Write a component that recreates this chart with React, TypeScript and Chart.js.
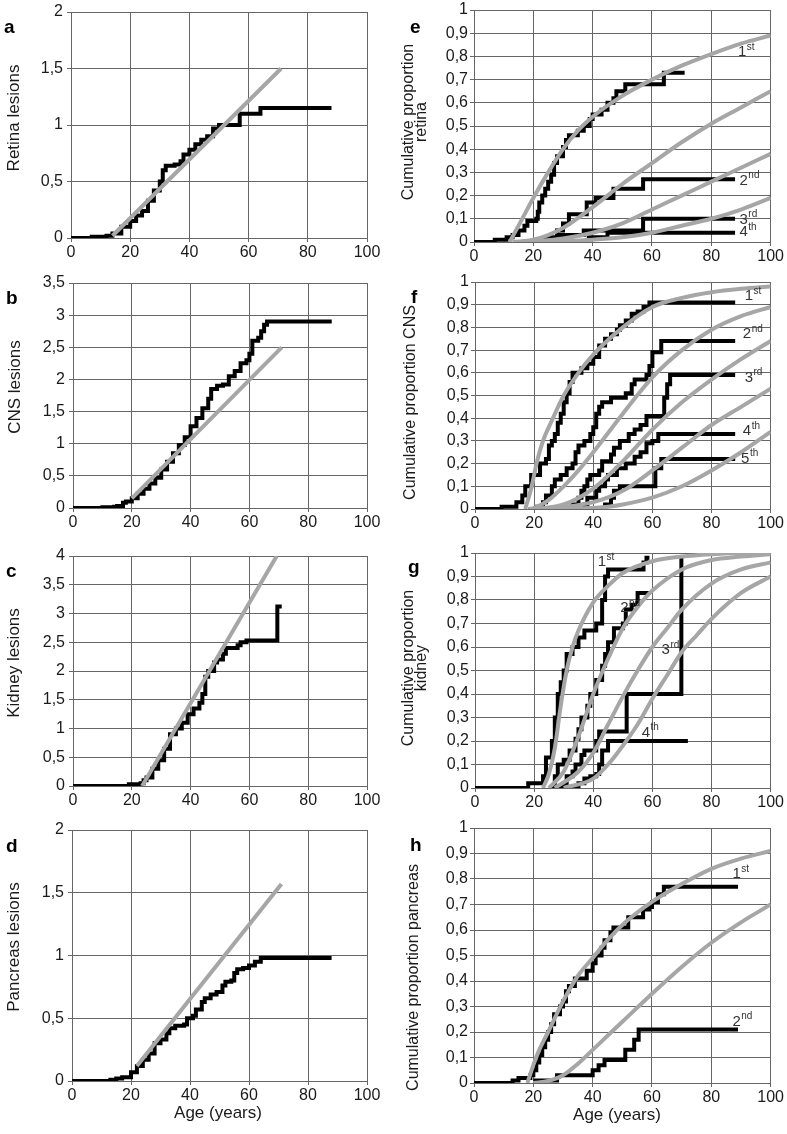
import React, { useEffect, useRef } from 'react';
import { Chart, registerables } from 'chart.js';

Chart.register(...registerables);

// ---------------- shared axis values ----------------
const ageMin = 0;
const ageMax = 100;
const ageStep = 20;

// ---------------- a: retina lesions ----------------
const aObsAge = [0, 7, 12, 14, 17, 20, 22, 24, 26, 28, 30, 31, 32, 35, 37, 38, 40, 42, 44, 46, 48, 50, 57, 64, 88];
const aObsVal = [0, 0.01, 0.02, 0.04, 0.1, 0.15, 0.2, 0.24, 0.33, 0.42, 0.5, 0.6, 0.64, 0.65, 0.68, 0.74, 0.78, 0.83, 0.87, 0.9, 0.97, 1.0, 1.1, 1.15, 1.15];
const aFitAge = [14, 71];
const aFitVal = [0.02, 1.5];

// ---------------- b: CNS lesions ----------------
const bObsAge = [0, 10, 14, 15, 17, 18, 20, 22, 24, 26, 28, 30, 32, 34, 36, 38, 40, 42, 44, 46, 47, 49, 51, 53, 55, 57, 59, 60, 61, 63, 64, 65, 66, 88];
const bObsVal = [0, 0.01, 0.02, 0.03, 0.08, 0.1, 0.15, 0.22, 0.3, 0.38, 0.47, 0.6, 0.72, 0.85, 0.98, 1.1, 1.27, 1.4, 1.55, 1.7, 1.85, 1.9, 1.92, 2.05, 2.13, 2.25, 2.3, 2.4, 2.6, 2.65, 2.75, 2.85, 2.9, 2.9];
const bFitAge = [20, 71];
const bFitVal = [0.15, 2.5];

// ---------------- c: kidney lesions ----------------
const cObsAge = [0, 19, 23, 24, 25, 27, 29, 31, 33, 35, 37, 39, 41, 43, 44, 45, 46, 48, 49, 51, 52, 56, 57, 59, 69.5, 71];
const cObsVal = [0, 0.03, 0.05, 0.1, 0.15, 0.3, 0.45, 0.65, 0.9, 1.0, 1.1, 1.25, 1.35, 1.45, 1.6, 1.9, 2.0, 2.15, 2.2, 2.3, 2.4, 2.45, 2.5, 2.53, 3.12, 3.12];
const cFitAge = [23.5, 69.3];
const cFitVal = [0, 4];

// ---------------- d: pancreas lesions ----------------
const dObsAge = [0, 13, 15, 17, 20, 22, 24, 26, 28, 30, 32, 33, 35, 38, 39, 41, 42, 44, 45, 47, 49, 51, 52, 54, 55, 56, 58, 60, 62, 64, 88];
const dObsVal = [0, 0.01, 0.02, 0.03, 0.07, 0.12, 0.17, 0.22, 0.3, 0.33, 0.38, 0.42, 0.44, 0.45, 0.5, 0.52, 0.57, 0.63, 0.66, 0.69, 0.71, 0.76, 0.79, 0.8, 0.86, 0.89, 0.9, 0.92, 0.95, 0.98, 0.98];
const dFitAge = [22, 71];
const dFitVal = [0.12, 1.57];

// ---------------- e: cumulative proportion retina ----------------
const e1ObsAge = [0, 7, 11, 13, 15, 17, 18, 21, 21.5, 22, 23, 24, 25, 26, 27, 28, 30, 31, 32, 35, 37, 39, 40, 43, 45, 47, 48, 51, 64, 71];
const e1ObsVal = [0, 0.01, 0.02, 0.03, 0.05, 0.07, 0.09, 0.1, 0.13, 0.17, 0.2, 0.23, 0.26, 0.29, 0.34, 0.37, 0.41, 0.44, 0.46, 0.48, 0.5, 0.53, 0.55, 0.57, 0.6, 0.62, 0.65, 0.68, 0.73, 0.73];
const e2ObsAge = [20, 24, 28, 30, 32, 38, 41, 47, 57, 88];
const e2ObsVal = [0, 0.02, 0.05, 0.08, 0.12, 0.17, 0.19, 0.23, 0.27, 0.27];
const e3ObsAge = [28, 37, 57, 88];
const e3ObsVal = [0.03, 0.05, 0.1, 0.1];
const e4ObsAge = [38, 45, 88];
const e4ObsVal = [0.02, 0.04, 0.04];
const e1FitAge = [12, 15, 20, 25, 30, 35, 40, 50, 60, 70, 80, 90, 100];
const e1FitVal = [0, 0.07, 0.19, 0.3, 0.4, 0.48, 0.54, 0.63, 0.7, 0.76, 0.81, 0.855, 0.89];
const e2FitAge = [13, 20, 25, 30, 40, 50, 60, 70, 80, 90, 100];
const e2FitVal = [0, 0.01, 0.03, 0.06, 0.15, 0.25, 0.34, 0.43, 0.51, 0.58, 0.65];
const e3FitAge = [18, 30, 40, 50, 60, 70, 80, 90, 100];
const e3FitVal = [0, 0.015, 0.04, 0.08, 0.14, 0.2, 0.26, 0.32, 0.38];
const e4FitAge = [25, 40, 50, 60, 70, 80, 90, 100];
const e4FitVal = [0, 0.01, 0.02, 0.04, 0.07, 0.1, 0.14, 0.19];

// ---------------- f: cumulative proportion CNS ----------------
const f1ObsAge = [0, 9, 14, 16, 17, 19, 22, 24, 25, 26, 27, 28, 29, 30, 31, 32, 33, 36, 38, 40, 42, 44, 46, 48, 49, 51, 53, 55, 57, 59, 88];
const f1ObsVal = [0, 0.01, 0.03, 0.06, 0.1, 0.15, 0.2, 0.22, 0.28, 0.3, 0.33, 0.38, 0.42, 0.47, 0.51, 0.56, 0.6, 0.62, 0.64, 0.67, 0.72, 0.75, 0.77, 0.79, 0.81, 0.83, 0.86, 0.87, 0.89, 0.91, 0.91];
const f2ObsAge = [18, 21, 23, 24, 26, 27, 29, 31, 33, 34, 35, 37, 39, 40, 41, 42, 43, 46, 51, 53, 54, 58, 59, 60, 63, 88];
const f2ObsVal = [0, 0.01, 0.03, 0.06, 0.1, 0.13, 0.15, 0.18, 0.2, 0.25, 0.28, 0.3, 0.33, 0.36, 0.42, 0.45, 0.47, 0.49, 0.51, 0.55, 0.57, 0.59, 0.63, 0.69, 0.74, 0.74];
const f3ObsAge = [30, 31, 33, 35, 36, 37, 38, 39, 42, 43, 46, 47, 49, 52, 54, 56, 58, 64, 65, 66, 88];
const f3ObsVal = [0, 0.01, 0.02, 0.05, 0.08, 0.1, 0.13, 0.15, 0.17, 0.21, 0.24, 0.27, 0.3, 0.33, 0.35, 0.37, 0.41, 0.49, 0.55, 0.59, 0.59];
const f4ObsAge = [36, 37, 38, 41, 42, 44, 45, 48, 51, 54, 56, 58, 60, 62, 88];
const f4ObsVal = [0, 0.02, 0.05, 0.08, 0.1, 0.13, 0.15, 0.18, 0.2, 0.23, 0.25, 0.29, 0.3, 0.33, 0.33];
const f5ObsAge = [40, 44, 46, 47, 49, 61, 63, 88];
const f5ObsVal = [0, 0.02, 0.05, 0.08, 0.1, 0.18, 0.22, 0.22];
const f1FitAge = [17, 19, 21, 23, 26, 30, 35, 40, 50, 60, 70, 80, 90, 100];
const f1FitVal = [0, 0.09, 0.21, 0.3, 0.39, 0.5, 0.6, 0.68, 0.8, 0.89, 0.93, 0.955, 0.97, 0.98];
const f2FitAge = [18, 20, 25, 30, 35, 40, 50, 60, 70, 80, 90, 100];
const f2FitVal = [0, 0.005, 0.04, 0.1, 0.17, 0.25, 0.42, 0.58, 0.7, 0.79, 0.85, 0.89];
const f3FitAge = [20, 30, 40, 50, 60, 70, 80, 90, 100];
const f3FitVal = [0, 0.02, 0.09, 0.21, 0.35, 0.47, 0.57, 0.66, 0.74];
const f4FitAge = [25, 40, 50, 60, 70, 80, 90, 100];
const f4FitVal = [0, 0.03, 0.08, 0.17, 0.27, 0.37, 0.45, 0.53];
const f5FitAge = [30, 45, 50, 60, 70, 80, 90, 100];
const f5FitVal = [0, 0.01, 0.02, 0.05, 0.1, 0.17, 0.25, 0.34];

// ---------------- g: cumulative proportion kidney ----------------
const g1ObsAge = [0, 18, 23, 24, 26, 27, 28, 29, 30, 31, 33, 35, 37, 41, 43, 44, 45, 57, 58, 59];
const g1ObsVal = [0, 0.02, 0.05, 0.13, 0.2, 0.3, 0.4, 0.45, 0.5, 0.57, 0.6, 0.64, 0.67, 0.7, 0.8, 0.9, 0.93, 0.96, 0.98, 0.98];
const g2ObsAge = [25, 27, 28, 30, 32, 34, 35, 36, 38, 39, 41, 43, 44, 45, 47, 50, 51, 53, 55, 59.5];
const g2ObsVal = [0, 0.05, 0.1, 0.12, 0.16, 0.21, 0.25, 0.3, 0.35, 0.4, 0.46, 0.52, 0.57, 0.62, 0.68, 0.7, 0.76, 0.78, 0.83, 0.83];
const g3ObsAge = [28, 30, 31, 33, 34, 36, 37, 41, 42, 51.3, 69.8];
const g3ObsVal = [0, 0.02, 0.05, 0.07, 0.1, 0.14, 0.16, 0.2, 0.24, 0.4, 0.99];
const g4ObsAge = [32, 35, 37, 39, 41, 42, 43, 45, 72];
const g4ObsVal = [0, 0.02, 0.04, 0.05, 0.06, 0.1, 0.16, 0.2, 0.2];
const g1FitAge = [23, 25, 27, 29, 31, 33, 35, 40, 45, 50, 60, 70, 80, 90, 100];
const g1FitVal = [0, 0.06, 0.17, 0.35, 0.5, 0.6, 0.67, 0.79, 0.86, 0.915, 0.965, 0.985, 0.995, 1.0, 1.0];
const g2FitAge = [25, 30, 35, 40, 45, 50, 55, 60, 70, 80, 90, 100];
const g2FitVal = [0, 0.07, 0.22, 0.4, 0.55, 0.68, 0.77, 0.84, 0.93, 0.97, 0.985, 0.995];
const g3FitAge = [27, 35, 40, 45, 50, 55, 60, 65, 70, 80, 90, 100];
const g3FitVal = [0, 0.07, 0.15, 0.27, 0.39, 0.5, 0.6, 0.68, 0.76, 0.87, 0.93, 0.96];
const g4FitAge = [30, 40, 45, 50, 55, 60, 65, 70, 75, 80, 90, 100];
const g4FitVal = [0, 0.04, 0.1, 0.18, 0.27, 0.38, 0.48, 0.58, 0.65, 0.72, 0.83, 0.9];

// ---------------- h: cumulative proportion pancreas ----------------
const h1ObsAge = [0, 13, 15, 19, 20, 21, 22, 23, 24, 25, 26, 27, 29, 30, 31, 32, 34, 38, 40, 41, 43, 44, 46, 47, 52, 57, 59, 60, 62, 64, 89];
const h1ObsVal = [0, 0.01, 0.02, 0.03, 0.05, 0.08, 0.11, 0.14, 0.17, 0.2, 0.23, 0.27, 0.3, 0.32, 0.36, 0.38, 0.41, 0.44, 0.47, 0.5, 0.53, 0.56, 0.59, 0.61, 0.65, 0.68, 0.69, 0.71, 0.74, 0.77, 0.77];
const h2ObsAge = [20, 28, 40, 42, 44, 51, 54, 55.5, 89];
const h2ObsVal = [0.01, 0.03, 0.05, 0.07, 0.09, 0.13, 0.17, 0.21, 0.21];
const h1FitAge = [18, 20, 22, 25, 30, 35, 40, 45, 50, 60, 70, 80, 90, 100];
const h1FitVal = [0, 0.07, 0.13, 0.2, 0.32, 0.42, 0.49, 0.56, 0.62, 0.71, 0.78, 0.84, 0.88, 0.91];
const h2FitAge = [20, 25, 30, 35, 40, 45, 50, 60, 70, 80, 90, 100];
const h2FitVal = [0, 0.008, 0.03, 0.075, 0.13, 0.185, 0.24, 0.35, 0.455, 0.55, 0.63, 0.7];

// ---------------- styling ----------------
const FONT = '"Liberation Sans", Arial, Helvetica, sans-serif';
const GRID = '#666666';
const TEXT = '#1a1a1a';
const FIT_COLOR = '#a6a6a6';
const OBS_COLOR = '#000000';
const LINE_W = 4;

type Series = { age: number[]; val: number[] };
type Ord = { x: number; y: number; n: string; s: string };
type Box = { x: number; y: number; w: number; h: number };
type Plot = { l: number; t: number; r: number; b: number };
type PanelCfg = {
  letter: string;
  letterPos: { left: number; top: number };
  box: Box;
  plot: Plot;
  yMax: number;
  yStep: number;
  yPad: number;
  yTitle: string[];
  yTitleSize: number;
  yTitleLH: number;
  yTitleCenter: { x: number; y: number };
  xTitleCenter?: { x: number; y: number };
  fits: Series[];
  obs: Series[];
  ords: Ord[];
};

const ser = (age: number[], val: number[]): Series => ({ age, val });

const panels: PanelCfg[] = [
  {
    letter: 'a', letterPos: { left: 4, top: 17 },
    box: { x: 0, y: 0, w: 393, h: 270 }, plot: { l: 71, t: 9, r: 367, b: 238 },
    yMax: 2, yStep: 0.5, yPad: 4,
    yTitle: ['Retina lesions'], yTitleSize: 17, yTitleLH: 20, yTitleCenter: { x: 14, y: 118 },
    fits: [ser(aFitAge, aFitVal)], obs: [ser(aObsAge, aObsVal)], ords: [],
  },
  {
    letter: 'b', letterPos: { left: 6, top: 288 },
    box: { x: 0, y: 270, w: 393, h: 270 }, plot: { l: 73, t: 283, r: 367, b: 508 },
    yMax: 3.5, yStep: 0.5, yPad: 4,
    yTitle: ['CNS lesions'], yTitleSize: 17, yTitleLH: 20, yTitleCenter: { x: 14.5, y: 387 },
    fits: [ser(bFitAge, bFitVal)], obs: [ser(bObsAge, bObsVal)], ords: [],
  },
  {
    letter: 'c', letterPos: { left: 6, top: 561 },
    box: { x: 0, y: 540, w: 393, h: 278 }, plot: { l: 73, t: 556, r: 367, b: 786 },
    yMax: 4, yStep: 0.5, yPad: 4,
    yTitle: ['Kidney lesions'], yTitleSize: 17, yTitleLH: 20, yTitleCenter: { x: 14, y: 663 },
    fits: [ser(cFitAge, cFitVal)], obs: [ser(cObsAge, cObsVal)], ords: [],
  },
  {
    letter: 'd', letterPos: { left: 6, top: 836 },
    box: { x: 0, y: 818, w: 393, h: 316 }, plot: { l: 72, t: 828, r: 367, b: 1081 },
    yMax: 2, yStep: 0.5, yPad: 4,
    yTitle: ['Pancreas lesions'], yTitleSize: 17, yTitleLH: 20, yTitleCenter: { x: 14, y: 947 },
    xTitleCenter: { x: 218, y: 1113 },
    fits: [ser(dFitAge, dFitVal)], obs: [ser(dObsAge, dObsVal)], ords: [],
  },
  {
    letter: 'e', letterPos: { left: 410, top: 17 },
    box: { x: 393, y: 0, w: 394, h: 270 }, plot: { l: 474, t: 8, r: 771, b: 242 },
    yMax: 1, yStep: 0.1, yPad: 2,
    yTitle: ['Cumulative proportion', 'retina'], yTitleSize: 16, yTitleLH: 13, yTitleCenter: { x: 414, y: 122 },
    fits: [ser(e1FitAge, e1FitVal), ser(e2FitAge, e2FitVal), ser(e3FitAge, e3FitVal), ser(e4FitAge, e4FitVal)],
    obs: [ser(e1ObsAge, e1ObsVal), ser(e2ObsAge, e2ObsVal), ser(e3ObsAge, e3ObsVal), ser(e4ObsAge, e4ObsVal)],
    ords: [
      { x: 89, y: 0.818, n: '1', s: 'st' },
      { x: 89.5, y: 0.265, n: '2', s: 'nd' },
      { x: 89.5, y: 0.096, n: '3', s: 'rd' },
      { x: 89.5, y: 0.044, n: '4', s: 'th' },
    ],
  },
  {
    letter: 'f', letterPos: { left: 411, top: 287 },
    box: { x: 393, y: 270, w: 394, h: 270 }, plot: { l: 475, t: 282, r: 771, b: 509 },
    yMax: 1, yStep: 0.1, yPad: 2,
    yTitle: ['Cumulative proportion CNS'], yTitleSize: 16, yTitleLH: 19, yTitleCenter: { x: 409, y: 402 },
    fits: [ser(f1FitAge, f1FitVal), ser(f2FitAge, f2FitVal), ser(f3FitAge, f3FitVal), ser(f4FitAge, f4FitVal), ser(f5FitAge, f5FitVal)],
    obs: [ser(f1ObsAge, f1ObsVal), ser(f2ObsAge, f2ObsVal), ser(f3ObsAge, f3ObsVal), ser(f4ObsAge, f4ObsVal), ser(f5ObsAge, f5ObsVal)],
    ords: [
      { x: 91.2, y: 0.937, n: '1', s: 'st' },
      { x: 90.6, y: 0.772, n: '2', s: 'nd' },
      { x: 91.2, y: 0.579, n: '3', s: 'rd' },
      { x: 90.6, y: 0.344, n: '4', s: 'th' },
      { x: 90, y: 0.222, n: '5', s: 'th' },
    ],
  },
  {
    letter: 'g', letterPos: { left: 408, top: 557 },
    box: { x: 393, y: 540, w: 394, h: 278 }, plot: { l: 475, t: 553, r: 772, b: 788 },
    yMax: 1, yStep: 0.1, yPad: 2,
    yTitle: ['Cumulative proportion', 'kidney'], yTitleSize: 16, yTitleLH: 13, yTitleCenter: { x: 414, y: 668 },
    fits: [ser(g1FitAge, g1FitVal), ser(g2FitAge, g2FitVal), ser(g3FitAge, g3FitVal), ser(g4FitAge, g4FitVal)],
    obs: [ser(g1ObsAge, g1ObsVal), ser(g2ObsAge, g2ObsVal), ser(g3ObsAge, g3ObsVal), ser(g4ObsAge, g4ObsVal)],
    ords: [
      { x: 41.5, y: 0.962, n: '1', s: 'st' },
      { x: 49.1, y: 0.766, n: '2', s: 'nd' },
      { x: 63.1, y: 0.588, n: '3', s: 'rd' },
      { x: 56.4, y: 0.236, n: '4', s: 'th' },
    ],
  },
  {
    letter: 'h', letterPos: { left: 410, top: 835 },
    box: { x: 393, y: 818, w: 394, h: 316 }, plot: { l: 474, t: 827, r: 771, b: 1083 },
    yMax: 1, yStep: 0.1, yPad: 2,
    yTitle: ['Cumulative proportion pancreas'], yTitleSize: 16, yTitleLH: 19, yTitleCenter: { x: 412, y: 977 },
    xTitleCenter: { x: 617, y: 1115 },
    fits: [ser(h1FitAge, h1FitVal), ser(h2FitAge, h2FitVal)],
    obs: [ser(h1ObsAge, h1ObsVal), ser(h2ObsAge, h2ObsVal)],
    ords: [
      { x: 87.1, y: 0.82, n: '1', s: 'st' },
      { x: 87.1, y: 0.241, n: '2', s: 'nd' },
    ],
  },
];

const ordinalPlugin = {
  id: 'ordinals',
  afterDatasetsDraw(chart: any, _args: any, opts: any) {
    const items: Ord[] = (opts && opts.items) || [];
    const { ctx } = chart;
    const xs = chart.scales.x;
    const ys = chart.scales.y;
    ctx.save();
    ctx.fillStyle = '#333333';
    ctx.textBaseline = 'middle';
    ctx.textAlign = 'left';
    for (const it of items) {
      const px = xs.getPixelForValue(it.x);
      const py = ys.getPixelForValue(it.y);
      ctx.font = `15px ${FONT}`;
      ctx.fillText(it.n, px, py);
      const w = ctx.measureText(it.n).width;
      ctx.font = `10px ${FONT}`;
      ctx.fillText(it.s, px + w + 0.5, py - 5);
    }
    ctx.restore();
  },
};

const fmtComma = (v: number | string) => {
  const n = Math.round(Number(v) * 10) / 10;
  return String(n).replace('.', ',');
};

const toPts = (s: Series) => s.age.map((x, i) => ({ x, y: s.val[i] }));

function PanelChart({ cfg }: { cfg: PanelCfg }) {
  const ref = useRef<HTMLCanvasElement>(null);
  useEffect(() => {
    const canvas = ref.current;
    if (!canvas) return;
    const { box, plot } = cfg;
    const datasets: any[] = [
      ...cfg.fits.map((s) => ({
        data: toPts(s),
        borderColor: FIT_COLOR,
        borderWidth: LINE_W,
        pointRadius: 0,
        cubicInterpolationMode: 'monotone',
        fill: false,
      })),
      ...cfg.obs.map((s) => ({
        data: toPts(s),
        borderColor: OBS_COLOR,
        borderWidth: LINE_W,
        pointRadius: 0,
        stepped: true,
        fill: false,
      })),
    ];
    const chart = new Chart(canvas, {
      type: 'line',
      data: { datasets },
      plugins: [ordinalPlugin as any],
      options: {
        animation: false,
        responsive: false,
        devicePixelRatio: 1,
        events: [],
        layout: {
          padding: { top: plot.t - box.y, right: box.x + box.w - plot.r, left: 0, bottom: 0 },
        },
        plugins: {
          legend: { display: false },
          tooltip: { enabled: false },
          ordinals: { items: cfg.ords },
        } as any,
        scales: {
          x: {
            type: 'linear',
            min: ageMin,
            max: ageMax,
            ticks: {
              stepSize: ageStep,
              autoSkip: false,
              maxRotation: 0,
              padding: 3,
              color: TEXT,
              font: { family: FONT, size: 16, lineHeight: 1 },
              callback: (v: any) => String(v),
            },
            grid: { color: GRID, lineWidth: 1, tickLength: 4, tickColor: GRID, drawTicks: true },
            border: { color: GRID, width: 1 },
            afterFit: (s: any) => {
              s.height = box.y + box.h - plot.b;
            },
          },
          y: {
            type: 'linear',
            min: 0,
            max: cfg.yMax,
            ticks: {
              stepSize: cfg.yStep,
              autoSkip: false,
              padding: cfg.yPad,
              color: TEXT,
              font: { family: FONT, size: 16, lineHeight: 1 },
              callback: (v: any) => fmtComma(v),
            },
            grid: { color: GRID, lineWidth: 1, tickLength: 4, tickColor: GRID, drawTicks: true },
            border: { color: GRID, width: 1 },
            afterFit: (s: any) => {
              s.width = plot.l - box.x;
            },
          },
        },
      } as any,
    });
    return () => chart.destroy();
  }, [cfg]);
  const { box } = cfg;
  return (
    <canvas
      ref={ref}
      width={box.w}
      height={box.h}
      style={{ position: 'absolute', left: box.x, top: box.y, width: box.w, height: box.h, display: 'block' }}
    />
  );
}

function YTitle({ cfg }: { cfg: PanelCfg }) {
  const W = 320;
  const H = cfg.yTitleLH * cfg.yTitle.length;
  const { x, y } = cfg.yTitleCenter;
  return (
    <div
      style={{
        position: 'absolute',
        left: x - W / 2,
        top: y - H / 2,
        width: W,
        height: H,
        transform: 'rotate(-90deg)',
        transformOrigin: '50% 50%',
        textAlign: 'center',
        fontFamily: FONT,
        fontSize: cfg.yTitleSize,
        lineHeight: `${cfg.yTitleLH}px`,
        color: TEXT,
        whiteSpace: 'nowrap',
      }}
    >
      {cfg.yTitle.map((t, i) => (
        <div key={i}>{t}</div>
      ))}
    </div>
  );
}

export default function App() {
  return (
    <div
      style={{
        position: 'absolute',
        left: 0,
        top: 0,
        width: 787,
        height: 1134,
        background: '#ffffff',
        overflow: 'hidden',
      }}
    >
      {panels.map((p) => (
        <React.Fragment key={p.letter}>
          <PanelChart cfg={p} />
          <div
            style={{
              position: 'absolute',
              left: p.letterPos.left,
              top: p.letterPos.top,
              fontFamily: FONT,
              fontWeight: 'bold',
              fontSize: 19,
              lineHeight: '19px',
              color: '#000',
            }}
          >
            {p.letter}
          </div>
          <YTitle cfg={p} />
          {p.xTitleCenter && (
            <div
              style={{
                position: 'absolute',
                left: p.xTitleCenter.x - 100,
                top: p.xTitleCenter.y - 10,
                width: 200,
                textAlign: 'center',
                fontFamily: FONT,
                fontSize: 17,
                lineHeight: '20px',
                color: TEXT,
              }}
            >
              Age (years)
            </div>
          )}
        </React.Fragment>
      ))}
    </div>
  );
}
